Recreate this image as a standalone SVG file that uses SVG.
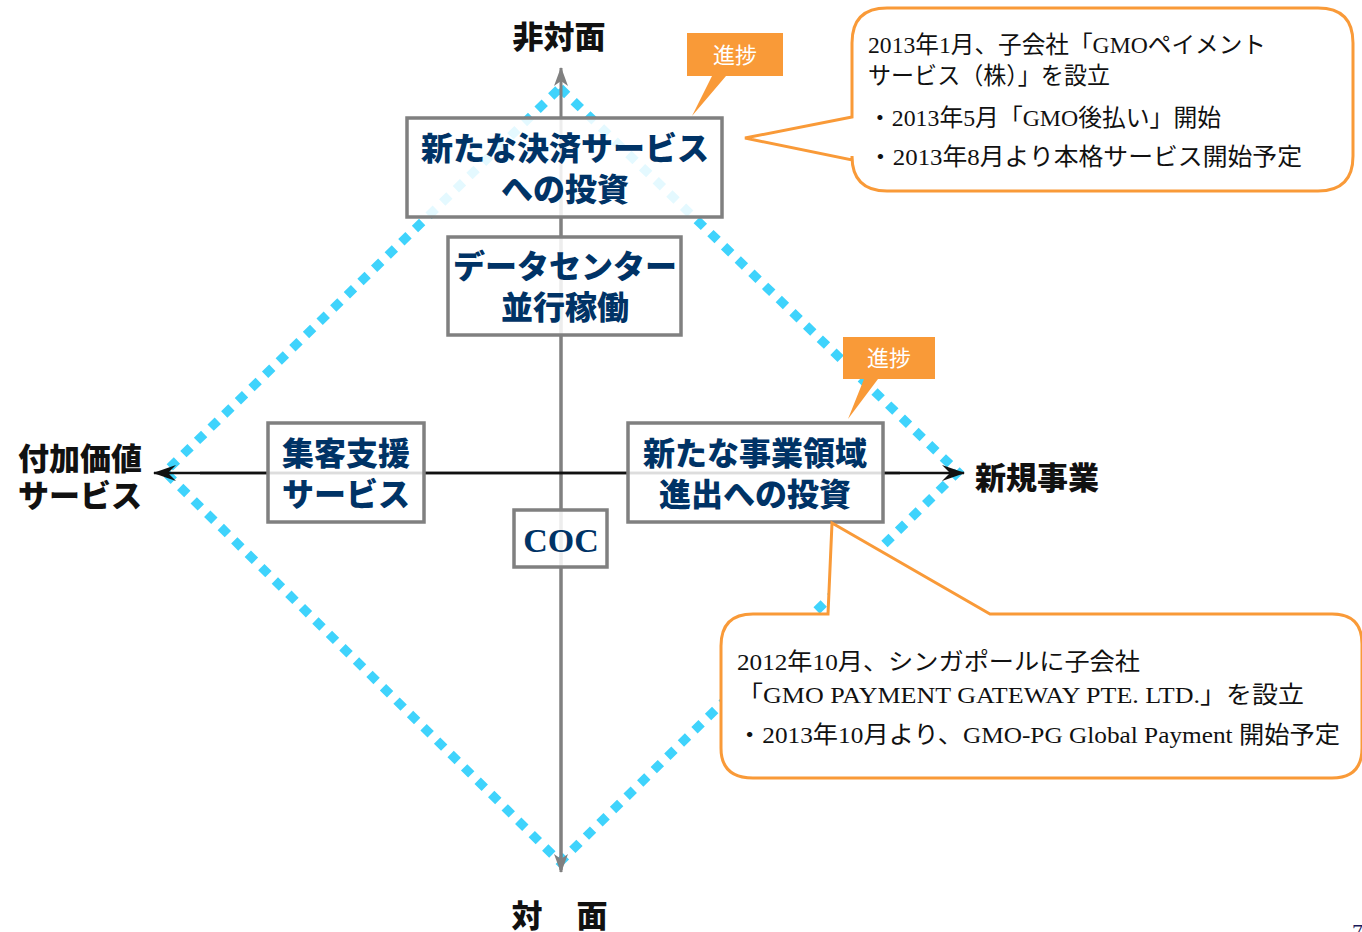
<svg xmlns="http://www.w3.org/2000/svg" width="1362" height="932" viewBox="0 0 1362 932">
<style>
.box{fill:#ffffff;fill-opacity:0.86;stroke:#808080;stroke-width:3.5}
.bt{font-family:"Noto Sans CJK JP",sans-serif;font-weight:900;font-size:32px;fill:#003366;text-anchor:middle}
.ax{font-family:"Noto Sans CJK JP",sans-serif;font-weight:900;font-size:31px;fill:#111111}
.tag{fill:#F99A38}
.tagt{font-family:"Noto Sans CJK JP",sans-serif;font-size:22px;fill:#ffffff;text-anchor:middle}
.call{fill:#ffffff;stroke:#F99A38;stroke-width:3}
.ct{font-family:"Liberation Serif","Noto Sans CJK JP",serif;font-size:23.5px;fill:#111111}
</style>
<defs>
<marker id="ag" viewBox="0 0 20 16" refX="18" refY="8" markerWidth="20" markerHeight="16" markerUnits="userSpaceOnUse" orient="auto">
<path d="M0,1 L19,8 L0,15 L5,8 Z" fill="#808080"/>
</marker>
<marker id="ab" viewBox="0 0 24 18" refX="22" refY="9" markerWidth="24" markerHeight="18" markerUnits="userSpaceOnUse" orient="auto">
<path d="M0,1 L23,9 L0,17 L8,9 Z" fill="#111111"/>
</marker>
</defs>
<rect width="1362" height="932" fill="#ffffff"/>
<g id="connectors">
<polygon points="560,88 958,472 560,862 165,472" fill="none" stroke="#3FD3FC" stroke-width="9" stroke-dasharray="10 9"/>
<line x1="561" y1="870" x2="561" y2="68" stroke="#808080" stroke-width="3" marker-end="url(#ag)"/>
<line x1="561" y1="200" x2="561" y2="872" stroke="#808080" stroke-width="3" marker-end="url(#ag)"/>
<line x1="200" y1="473" x2="964" y2="473" stroke="#111111" stroke-width="2.5" marker-end="url(#ab)"/>
<line x1="900" y1="473" x2="154" y2="473" stroke="#111111" stroke-width="2.5" marker-end="url(#ab)"/>
</g>
<g id="axis-top"><text class="ax" x="559" y="48" text-anchor="middle">非対面</text></g>
<g id="axis-bottom"><text class="ax" x="527" y="927" text-anchor="middle">対</text><text class="ax" x="592" y="927" text-anchor="middle">面</text></g>
<g id="axis-right"><text class="ax" x="975" y="489">新規事業</text></g>
<g id="axis-left"><text class="ax" x="18" y="470">付加価値</text><text class="ax" x="18" y="507">サービス</text></g>
<g id="node-payment">
<rect class="box" x="407" y="118" width="315" height="99"/>
<text class="bt" x="565" y="160">新たな決済サービス</text>
<text class="bt" x="565" y="201">への投資</text>
</g>
<g id="node-datacenter">
<rect class="box" x="448" y="237" width="233" height="98"/>
<text class="bt" x="565" y="278">データセンター</text>
<text class="bt" x="565" y="319">並行稼働</text>
</g>
<g id="node-customer">
<rect class="box" x="268" y="423" width="156" height="99"/>
<text class="bt" x="346" y="465">集客支援</text>
<text class="bt" x="346" y="506">サービス</text>
</g>
<g id="node-newbiz">
<rect class="box" x="628" y="423" width="255" height="99"/>
<text class="bt" x="755" y="465">新たな事業領域</text>
<text class="bt" x="755" y="506">進出への投資</text>
</g>
<g id="node-coc">
<rect class="box" x="514" y="510" width="93" height="57"/>
<text x="561" y="552" text-anchor="middle" font-family="Liberation Serif,serif" font-weight="bold" font-size="34" fill="#003366">COC</text>
</g>
<g id="tag1">
<path class="tag" d="M687,33 H783 V76 H726 L692,116 L712,76 H687 Z"/>
<text class="tagt" x="735" y="63">進捗</text>
</g>
<g id="tag2">
<path class="tag" d="M843,337 H935 V379 H878 L848,419 L864,379 H843 Z"/>
<text class="tagt" x="889" y="366">進捗</text>
</g>
<g id="callout1">
<path class="call" d="M887,8 H1318 Q1353,8 1353,43 V156 Q1353,191 1318,191 H887 Q852,191 852,156 V160 L745,138 L852,117 V43 Q852,8 887,8 Z"/>
<text class="ct" x="868" y="53" textLength="398" lengthAdjust="spacingAndGlyphs">2013年1月、子会社「GMOペイメント</text>
<text class="ct" x="868" y="84" textLength="242" lengthAdjust="spacingAndGlyphs">サービス（株）」を設立</text>
<text class="ct" x="868" y="126" textLength="353" lengthAdjust="spacingAndGlyphs">・2013年5月「GMO後払い」開始</text>
<text class="ct" x="868" y="165" textLength="434" lengthAdjust="spacingAndGlyphs">・2013年8月より本格サービス開始予定</text>
</g>
<g id="callout2">
<path class="call" d="M753,614 H828 L832,523 L990,614 H1332 Q1362,614 1362,644 V748 Q1362,778 1332,778 H753 Q721,778 721,748 V646 Q721,614 753,614 Z"/>
<text class="ct" x="737" y="670" textLength="403" lengthAdjust="spacingAndGlyphs">2012年10月、シンガポールに子会社</text>
<text class="ct" x="737" y="703" textLength="567" lengthAdjust="spacingAndGlyphs">「GMO PAYMENT GATEWAY PTE. LTD.」を設立</text>
<text class="ct" x="737" y="743" textLength="603" lengthAdjust="spacingAndGlyphs">・2013年10月より、GMO-PG Global Payment 開始予定</text>
</g>
<g id="page"><text x="1352" y="939" font-family="Liberation Serif,serif" font-size="22" fill="#1a1a5a">7</text></g>
</svg>
